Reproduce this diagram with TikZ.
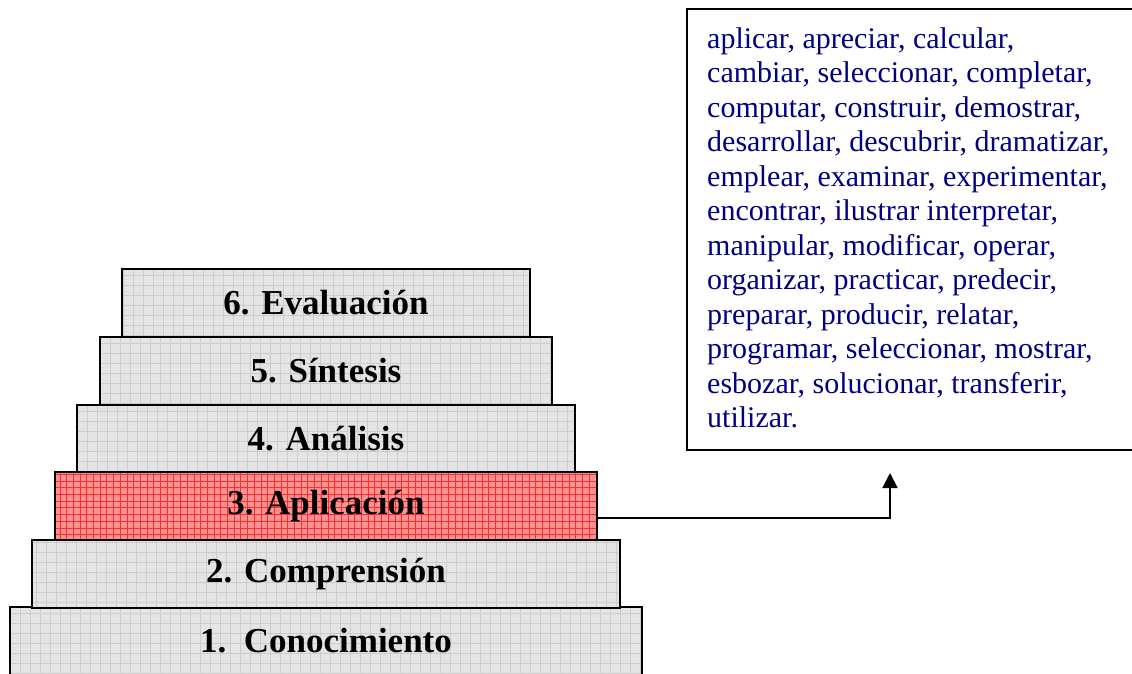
\documentclass[tikz,border=0pt]{standalone}
\usepackage{fontspec}
\setmainfont{Liberation Serif}
\usetikzlibrary{arrows.meta}
\definecolor{gfill}{HTML}{E4E4E4}
\definecolor{gline}{HTML}{CCCCCC}
\definecolor{rfill}{HTML}{FF9090}
\definecolor{rline}{HTML}{F43030}
\definecolor{navy}{HTML}{000080}
\begin{document}
\begin{tikzpicture}[x=1pt,y=-1pt,
  stair/.style={draw=black,line width=2pt,minimum height=68pt,inner sep=0pt,anchor=north,
    font=\fontsize{35}{40}\selectfont\bfseries},
  gpat/.style={fill=gfill,path picture={\draw[gline,line width=0.6pt] (path picture bounding box.south west) grid[step=10pt] (path picture bounding box.north east);}},
  rpat/.style={fill=rfill,path picture={\draw[rline,line width=0.6pt] (path picture bounding box.south west) grid[step=6.7pt] (path picture bounding box.north east);}},
  frame/.style={draw=black,line width=2pt},
  conn/.style={draw=black,line width=2pt,-{Triangle[width=15pt,length=15pt]}}
]
\useasboundingbox (0,0) rectangle (1132,673);
\node[stair,gpat,minimum width=408pt] (b6) at (326,268) {6. Evaluación};
\node[stair,gpat,minimum width=452pt] (b5) at (326,336) {5. Síntesis};
\node[stair,gpat,minimum width=498pt] (b4) at (326,404) {4. Análisis};
\node[stair,gpat,minimum width=632pt] (b1) at (326,606) {1.\ \ Conocimiento};
\node[stair,gpat,minimum width=588pt] (b2) at (326,539) {2. Comprensión};
\node[stair,rpat,minimum width=542pt] (b3) at (326,471) {3. Aplicación};
\draw[frame] (1132,9) -- (687,9) -- (687,450) -- (1132,450);
\node[anchor=north west,inner sep=0pt,align=left,text=navy,font=\fontsize{30}{34.5}\selectfont] (verbs) at (707,27)
{aplicar, apreciar, calcular,\\
cambiar, seleccionar, completar,\\
computar, construir, demostrar,\\
desarrollar, descubrir, dramatizar,\\
emplear, examinar, experimentar,\\
encontrar, ilustrar interpretar,\\
manipular, modificar, operar,\\
organizar, practicar, predecir,\\
preparar, producir, relatar,\\
programar, seleccionar, mostrar,\\
esbozar, solucionar, transferir,\\
utilizar.};
\coordinate (tip) at (890,473);
\draw[conn] ([yshift=-12pt]b3.east) -| (tip);
\end{tikzpicture}
\end{document}
